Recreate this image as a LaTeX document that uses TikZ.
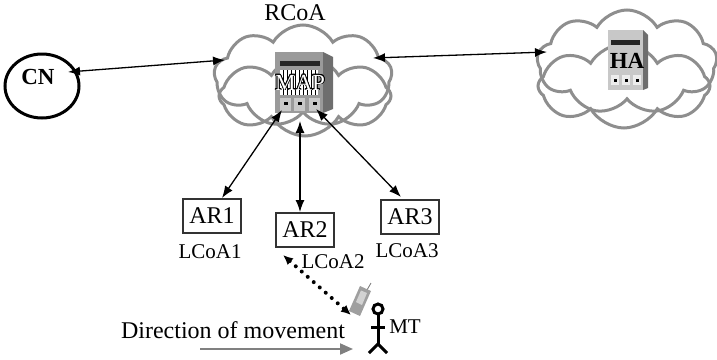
\documentclass[tikz,border=0pt]{standalone}
\usepackage{fontspec}
\setmainfont{Liberation Serif}
\usepackage{contour}
\contourlength{0.7pt}
\usetikzlibrary{arrows.meta,shapes.symbols,shapes.geometric}
\definecolor{cloudgray}{HTML}{8E8E8E}
\definecolor{boxgray}{HTML}{9A9A9A}
\definecolor{sidegray}{HTML}{6E6E6E}
\definecolor{portgray}{HTML}{C8C8C8}
\newcommand{\txt}[1]{\fontsize{#1}{#1}\selectfont}

\begin{document}
\begin{tikzpicture}[x=1pt,y=-1pt,
  cloudline/.style={cloud, cloud puffs=9, draw=cloudgray, line width=3pt,
    cloud puff arc=120, inner sep=0pt},
  link/.style={line width=1.3pt, {Latex[length=12pt,width=9pt]}-{Latex[length=12pt,width=9pt]}},
  arbox/.style={draw=black!80, line width=1.5pt, minimum width=58pt,
    minimum height=34pt, inner sep=0pt, font=\txt{24}},
  label/.style={inner sep=0pt, font=\txt{21}},
  person/.style={line width=3pt, black}
]
\useasboundingbox (0,0) rectangle (717,359);

% ---- clouds ----
\node[cloudline, minimum width=178pt, minimum height=102pt] (rcoaA) at (303,76) {};
\node[cloudline, minimum width=172pt, minimum height=80pt, cloud puffs=8] (rcoaB) at (305,96) {};
\node[cloudline, minimum width=180pt, minimum height=104pt] (haA) at (627,62) {};
\node[cloudline, minimum width=172pt, minimum height=84pt, cloud puffs=8] (haB) at (624,86) {};
\node[inner sep=0pt, font=\txt{24}] (rcoa) at (295,13) {RCoA};

% ---- MAP router ----
\fill[sidegray] (323,52) -- (333,57) -- (333,109) -- (323,113) -- cycle;
\fill[boxgray] (275,52) rectangle (323,113);
\fill[black!85] (280,61) rectangle (320,66);
\fill[white] (280,70) rectangle (318,95);
\foreach \xs in {283,287,291,295,299,303,307,311,315}
  \draw[black, line width=0.9pt] (\xs,70) -- (\xs,95);
\node[inner sep=0pt, font=\txt{23}] (map) at (300,83) {\contour{black}{\textcolor{white}{MAP}}};
\foreach \xp in {280,294,309} {
  \fill[portgray] (\xp,98) rectangle ++(11,13);
  \fill[black] (\xp+3.5,102) rectangle ++(4,3);
}

% ---- HA server ----
\fill[sidegray] (643,30) -- (648,35) -- (648,88) -- (643,90) -- cycle;
\fill[portgray] (608,30) rectangle (643,90);
\fill[black!85] (611,40) rectangle (640,45);
\node[inner sep=0pt, font=\bfseries\txt{23}] (ha) at (627,61) {HA};
\foreach \xp in {611,622,633} {
  \fill[white!85!gray] (\xp,75) rectangle ++(8,10);
  \fill[black] (\xp+2.5,78.5) rectangle ++(3,3);
}

% ---- correspondent node ----
\draw[line width=3pt] (42,86) ellipse [x radius=37pt, y radius=32pt];
\node[inner sep=0pt, font=\bfseries\txt{23}] (cn) at (38,77) {CN};

% ---- access routers ----
\node[arbox] (ar1) at (212,216) {AR1};
\node[arbox] (ar2) at (305,230) {AR2};
\node[arbox] (ar3) at (410,217) {AR3};
\node[label] (lcoa1) at (210,252) {LCoA1};
\node[label] (lcoa2) at (333,262) {LCoA2};
\node[label] (lcoa3) at (407,251) {LCoA3};

% ---- connector end points ----
\coordinate (cnR) at (68,72);
\coordinate (rcoaL) at (225,60);
\coordinate (rcoaR) at (373,58);
\coordinate (haL) at (547,52);
\coordinate (port1) at (282,110);
\coordinate (port2) at (300,121);
\coordinate (port3) at (316,109);
\coordinate (ar1top) at (222,198);
\coordinate (ar2top) at (300,212);
\coordinate (ar3top) at (401,197);
\coordinate (ar2foot) at (283,255);
\coordinate (phonetip) at (351,315);

\draw[link] (cnR) -- (rcoaL);
\draw[link] (rcoaR) -- (haL);
\draw[link] (port1) -- (ar1top);
\draw[link] (port2) -- (ar2top);
\draw[link] (port3) -- (ar3top);

% dotted radio link to the handset
\draw[line width=4pt, line cap=round, dash pattern=on 0pt off 8pt,
  {Latex[length=10pt,width=9pt]}-{Latex[length=10pt,width=9pt]}] (ar2foot) -- (phonetip);

% ---- handset ----
\draw[gray, line width=0.9pt] (367,290) -- (371,283);
\fill[gray!75] (349,311) -- (360,316) -- (371,291) -- (360,286) -- cycle;
\fill[gray!35] (356,302) -- (362,305) -- (367,293) -- (361,290.5) -- cycle;
\coordinate (phone) at (360,301);

% ---- mobile terminal ----
\draw[person] (378,309) circle [radius=5pt];
\draw[person] (378,314) -- (378,344);
\draw[person] (371,327) -- (385,327);
\draw[person] (369,353) -- (378,344) -- (387,353);
\node[label] (mt) at (405,327) {MT};

% ---- direction of movement ----
\node[inner sep=0pt, font=\txt{24}] (dir) at (233,330) {Direction of movement};
\coordinate (movestart) at (200,349);
\coordinate (moveend) at (353,349);
\draw[draw=gray, line width=2pt, -{Triangle[length=13pt,width=11pt,fill=gray]}] (movestart) -- (moveend);
\end{tikzpicture}
\end{document}
